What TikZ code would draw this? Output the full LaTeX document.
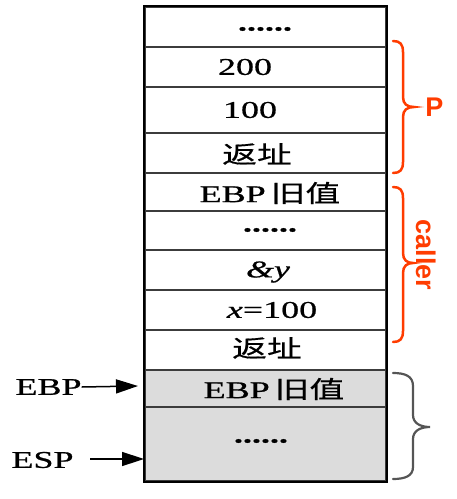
\documentclass[tikz,border=0pt]{standalone}
\usepackage{fontspec}
\usetikzlibrary{arrows.meta}
\newfontfamily\tnr[FakeStretch=1.5,FakeBold=0.8]{Liberation Serif}
\newfontfamily\cjk[FakeStretch=1.45,FakeBold=0.5]{Noto Sans CJK SC}
\newfontfamily\lsans{Liberation Sans}
\definecolor{braceRed}{RGB}{255,60,0}
\definecolor{cellGray}{RGB}{220,220,220}
\definecolor{lineGray}{RGB}{60,60,60}
\definecolor{braceGray}{RGB}{85,85,85}
\tikzset{
  cell/.style={draw=lineGray, line width=1.5pt, rectangle, minimum width=241pt, inner sep=0pt},
  txt/.style={inner sep=0pt, font=\tnr\fontsize{24}{28}\selectfont},
  dots/.style={inner sep=0pt, font=\tnr\bfseries\fontsize{24}{28}\selectfont},
  redlabel/.style={inner sep=0pt, text=braceRed, font=\lsans\bfseries\fontsize{27}{30}\selectfont},
  redbrace/.style={draw=braceRed, line width=2.5pt, line cap=round},
  graybrace/.style={draw=braceGray, line width=2.2pt, line cap=round},
  ptr/.style={line width=1.5pt, -{Triangle[length=22pt,width=14pt]}}
}
\begin{document}
\begin{tikzpicture}[x=1pt,y=-1pt]
\useasboundingbox (0,0) rectangle (457,499);
% rows
\node[cell, minimum height=40pt] (r1) at (265.5,27) {};
\node[cell, minimum height=40pt] (r2) at (265.5,67) {};
\node[cell, minimum height=46pt] (r3) at (265.5,110) {};
\node[cell, minimum height=40pt] (r4) at (265.5,153) {};
\node[cell, minimum height=38pt] (r5) at (265.5,192) {};
\node[cell, minimum height=39pt] (r6) at (265.5,230.5) {};
\node[cell, minimum height=40pt] (r7) at (265.5,270) {};
\node[cell, minimum height=40pt] (r8) at (265.5,310) {};
\node[cell, minimum height=40pt] (r9) at (265.5,350) {};
\node[cell, minimum height=37pt, fill=cellGray] (r10) at (265.5,388.5) {};
\node[cell, minimum height=74pt, fill=cellGray] (r11) at (265.5,444) {};
\draw[line width=2pt, black] (r1.north west) rectangle (r11.south east);
% texts
\node[dots] (t1) at (265,29) {......};
\node[txt] (t2) at (245,67) {200};
\node[txt] (t3) at (250,110) {100};
\node[txt] (t4) at (257,154) {\cjk 返址};
\node[txt] (t5) at (270,193) {EBP\hspace{5pt}\cjk 旧值};
\node[dots] (t6) at (270,230) {......};
\node[txt] (t7) at (268,272) {\itshape \&y};
\node[txt] (t8) at (272,310) {{\itshape x}=100};
\node[txt] (t9) at (267,348) {\cjk 返址};
\node[txt] (t10) at (274,389) {EBP\hspace{5pt}\cjk 旧值};
\node[dots] (t11) at (261,441) {......};
% pointers
\node[txt] (ebp) at (48.5,387) {EBP};
\node[txt] (esp) at (42.5,460) {ESP};
\coordinate (ebptip) at (138,386);
\coordinate (espstart) at (90,459);
\coordinate (esptip) at (144,459);
\draw[ptr] (ebp.east) -- (ebptip);
\draw[ptr] (espstart) -- (esptip);
% braces
\draw[redbrace] (393,41) .. controls (400,41) and (403,44) .. (403,52) -- (403,97)
  .. controls (403,104) and (407,107) .. (414,107)
  .. controls (407,107) and (403,110) .. (403,117) -- (403,162)
  .. controls (403,170) and (400,173) .. (393,173);
\node[redlabel] (P) at (434.5,107) {P};
\draw[redbrace] (393,187) .. controls (400,187) and (403,190) .. (403,198) -- (403,253)
  .. controls (403,260) and (407,263) .. (413,263)
  .. controls (407,263) and (403,266) .. (403,273) -- (403,331)
  .. controls (403,339) and (400,342) .. (393,342);
\node[redlabel, rotate=-90] (caller) at (426,255) {caller};
\draw[graybrace] (393,373) .. controls (405,373) and (413,376) .. (413,386) -- (413,415)
  .. controls (413,423) and (420,427) .. (430,427)
  .. controls (420,427) and (413,431) .. (413,439) -- (413,467)
  .. controls (413,476) and (405,479) .. (393,479);
\end{tikzpicture}
\end{document}
